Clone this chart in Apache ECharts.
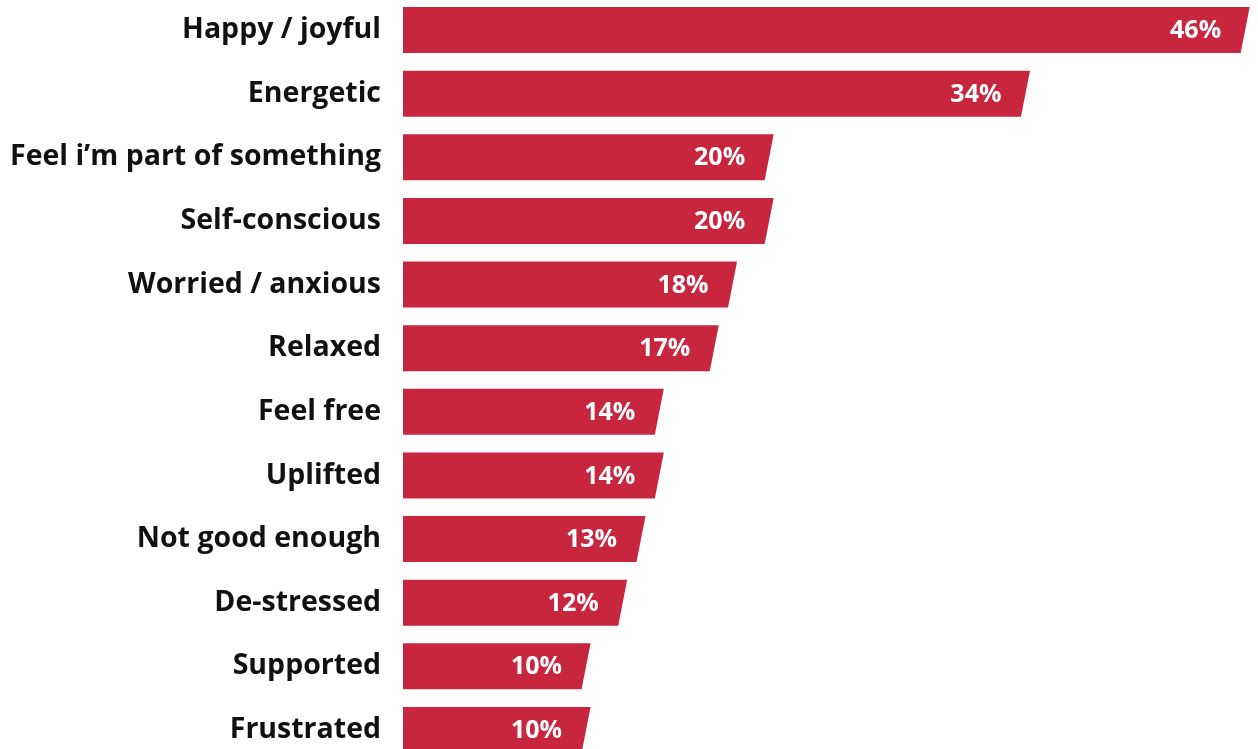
<!DOCTYPE html>
<html>
<head>
<meta charset="utf-8">
<script src="https://cdn.jsdelivr.net/npm/echarts@6/dist/echarts.min.js"></script>
<style>
html,body{margin:0;padding:0;background:#fff;}
#chart{width:1258px;height:749px;}
</style>
</head>
<body>
<div id="chart"></div>
<script>
const categories = ["Happy / joyful","Energetic","Feel i\u2019m part of something","Self-conscious","Worried / anxious","Relaxed","Feel free","Uplifted","Not good enough","De-stressed","Supported","Frustrated"];
const values = [46,34,20,20,18,17,14,14,13,12,10,10];

const BAR_H = 46, SLANT = 9;
const chart = echarts.init(document.getElementById('chart'));
chart.setOption({
  animation:false,
  grid:{left:403,width:856,top:30,height:700,containLabel:false},
  xAxis:{type:'value',min:0,max:46.7,show:false},
  yAxis:{type:'category',data:categories,inverse:true,boundaryGap:false,
    axisLine:{show:false},axisTick:{show:false},splitLine:{show:false},
    axisLabel:{margin:22,color:'#111',fontSize:28.5,fontWeight:'bold',fontFamily:'Open Sans'}},
  series:[{
    type:'custom',
    clip:false,
    data:values.map((v,i)=>[i,v]),
    encode:{x:1,y:0},
    renderItem:function(params,api){
      const v=api.value(1), idx=api.value(0);
      const p0=api.coord([0,idx]);
      const p1=api.coord([v,idx]);
      const y0=p0[1]-BAR_H/2, y1=p0[1]+BAR_H/2;
      return {type:'group',children:[
        {type:'polygon',shape:{points:[[p0[0],y0],[p1[0]+SLANT/2,y0],[p1[0]-SLANT/2,y1],[p0[0],y1]]},
         style:{fill:'#c8263f'}},
        {type:'text',style:{text:v+'%',x:p1[0]-24,y:p0[1]+1,align:'right',verticalAlign:'middle',
          fill:'#fff',font:'bold 25px "Open Sans"'}}
      ]};
    }
  }]
});
</script>
</body>
</html>
